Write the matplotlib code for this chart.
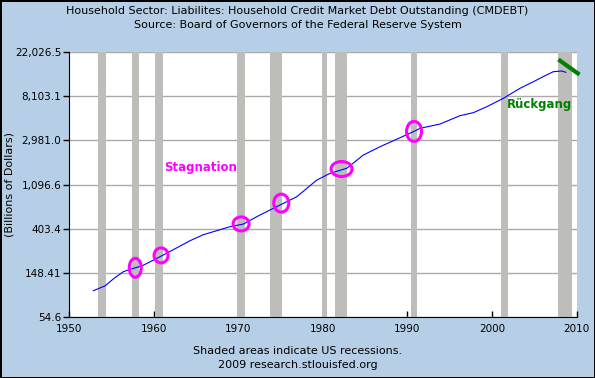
import matplotlib
matplotlib.use("Agg")
import matplotlib.pyplot as plt
from matplotlib.patches import Ellipse
from matplotlib.transforms import ScaledTranslation
import numpy as np

# debt series (billions of dollars)
years = [1952.87, 1954.26, 1955.24, 1956.42, 1957.60, 1958.60, 1959.78, 1960.96,
         1962.73, 1964.31, 1965.88, 1967.46, 1969.04, 1970.61, 1972.58, 1974.95,
         1976.92, 1979.29, 1980.86, 1982.83, 1984.80, 1986.77, 1988.54, 1990.79,
         1991.50, 1993.86, 1996.23, 1997.80, 1999.39, 2001.35, 2003.32, 2004.90,
         2006.28, 2007.26, 2008.25, 2008.73]
debt = [99.5, 111, 130, 153, 165, 174, 195, 219,
        262, 308, 353, 386, 423, 449, 551, 690,
        831, 1212, 1412, 1582, 2135, 2576, 2997, 3640,
        3903, 4301, 5193, 5557, 6362, 7690, 9640, 11190,
        12820, 14030, 14250, 13830]

# recessions
rec_start = [1953.46, 1957.48, 1960.20, 1969.86, 1973.76, 1979.95, 1981.45, 1990.43, 2001.08, 2007.85]
rec_end = [1954.37, 1958.28, 1961.11, 1970.81, 1975.18, 1980.47, 1982.87, 1991.14, 2001.91, 2009.43]

# magenta circles
circ_x = [1957.83, 1960.88, 1970.34, 1975.09, 1982.22, 1990.79]
circ_y = [167, 221, 450, 720, 1556, 3641]
circ_w = [12, 14, 16, 15, 21, 15]
circ_h = [19, 15, 14, 18, 15, 20]

# green down stroke
drop_x = [2008.05, 2010.14]
drop_y = [17970, 13510]

yticks = [np.e ** k for k in range(4, 11)]
ylabels = ["54.6", "148.41", "403.4", "1,096.6", "2,981.0", "8,103.1", "22,026.5"]
xticks = [1950, 1960, 1970, 1980, 1990, 2000, 2010]

bg = "#b7cfe6"
fig = plt.figure(figsize=(5.95, 3.78), dpi=100)
fig.patch.set_facecolor(bg)
fig.patch.set_edgecolor("black")
fig.patch.set_linewidth(2)

ax = fig.add_axes([0.116, 0.1606, 0.853, 0.7026])
ax.set_facecolor("white")
ax.set_yscale("log")
ax.set_xlim(1950, 2010)
ax.set_ylim(yticks[0], yticks[-1])

ax.set_yticks(yticks)
ax.set_yticklabels(ylabels)
ax.yaxis.set_minor_locator(matplotlib.ticker.NullLocator())
ax.set_xticks(xticks)
ax.tick_params(axis="y", direction="out", length=4, pad=1.5, labelsize=7.5, width=1)
ax.tick_params(axis="x", direction="in", length=4, pad=5, labelsize=7.5, width=1)
ax.grid(axis="y", color="#aaaaaa", linewidth=1)
ax.set_axisbelow(True)

for s in ["top", "right"]:
    ax.spines[s].set_visible(False)

for a, b in zip(rec_start, rec_end):
    ax.axvspan(a, b, color="#bdbdba", zorder=1, lw=0)

ax.plot(years, debt, color="#0000ff", linewidth=0.8, zorder=3)

for x, y, w, h in zip(circ_x, circ_y, circ_w, circ_h):
    tr = fig.dpi_scale_trans + ScaledTranslation(x, y, ax.transData)
    e = Ellipse((0, 0), w / 100, h / 100, transform=tr, fill=False,
                edgecolor="#ff00ff", linewidth=2.2, zorder=4)
    ax.add_patch(e)

ax.plot(drop_x, drop_y, color="#008000", linewidth=3, clip_on=False, zorder=4)

ax.text(1965.5, 1617, "Stagnation", color="#ff00ff", fontsize=8.5, fontweight="bold",
        ha="center", va="center")
ax.text(2005.65, 6700, "Rückgang", color="#008000", fontsize=8.5, fontweight="bold",
        ha="center", va="center")

fig.text(10 / 595, 0.512, "(Billions of Dollars)", rotation=90,
         ha="center", va="center", fontsize=8)

fig.text(0.5, 1 - 11 / 378, "Household Sector: Liabilites: Household Credit Market Debt Outstanding (CMDEBT)",
         ha="center", va="center", fontsize=8)
fig.text(0.5, 1 - 25 / 378, "Source: Board of Governors of the Federal Reserve System",
         ha="center", va="center", fontsize=8)
fig.text(0.5, 1 - 351 / 378, "Shaded areas indicate US recessions.",
         ha="center", va="center", fontsize=8)
fig.text(0.5, 1 - 365 / 378, "2009 research.stlouisfed.org",
         ha="center", va="center", fontsize=8)

plt.savefig("out.png", dpi=100)
